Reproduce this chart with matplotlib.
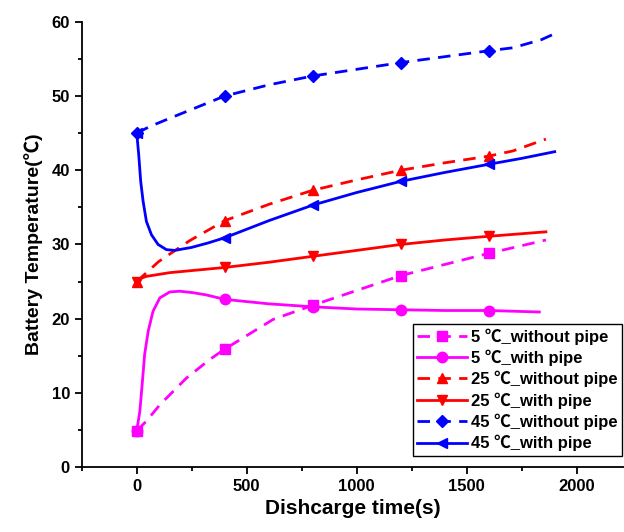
import numpy as np
import matplotlib.pyplot as plt
from matplotlib.ticker import MultipleLocator

plt.rcParams['font.family'] = ['Liberation Sans', 'Noto Sans CJK SC', 'DejaVu Sans']
plt.rcParams['font.weight'] = 'bold'

# discharge temperature traces, markers every 400 s
mark_t = [0, 400, 800, 1200, 1600]

t5_np = [0, 44, 105, 226, 332, 400, 620, 800, 1000, 1200, 1400, 1600, 1860]
y5_np = [4.9, 6.2, 8.4, 12.0, 14.5, 15.9, 19.9, 21.8, 23.8, 25.8, 27.3, 28.8, 30.6]

t5_p = [0, 14, 26, 36, 52, 74, 105, 150, 195, 256, 316, 400, 600, 800, 1000, 1200, 1400, 1600, 1830]
y5_p = [4.9, 7.5, 11.6, 15.2, 18.3, 21.0, 22.8, 23.6, 23.7, 23.5, 23.2, 22.6, 22.0, 21.6, 21.3, 21.2, 21.1, 21.1, 20.9]

t25_np = [0, 100, 240, 400, 600, 800, 1000, 1200, 1400, 1600, 1710, 1860]
y25_np = [25.0, 27.7, 30.5, 33.2, 35.4, 37.3, 38.7, 40.0, 41.0, 41.9, 42.6, 44.2]

t25_p = [0, 15, 44, 150, 400, 600, 800, 1000, 1200, 1400, 1600, 1860]
y25_p = [25.0, 25.4, 25.7, 26.2, 26.9, 27.6, 28.4, 29.2, 30.0, 30.6, 31.1, 31.7]

t45_np = [0, 60, 150, 250, 400, 600, 800, 1000, 1200, 1400, 1600, 1710, 1840, 1900]
y45_np = [45.0, 45.9, 47.0, 48.2, 50.0, 51.5, 52.7, 53.6, 54.5, 55.3, 56.1, 56.5, 57.6, 58.4]

t45_p = [0, 9, 18, 29, 44, 67, 97, 135, 173, 249, 324, 400, 600, 800, 1000, 1200, 1400, 1600, 1750, 1900]
y45_p = [45.0, 42.1, 38.5, 35.8, 33.1, 31.3, 30.0, 29.3, 29.2, 29.6, 30.2, 30.9, 33.2, 35.3, 37.0, 38.5, 39.7, 40.8, 41.6, 42.5]

series = [
    (t5_np, y5_np, '#FF00FF', 's', True, '5 ℃_without pipe'),
    (t5_p, y5_p, '#FF00FF', 'o', False, '5 ℃_with pipe'),
    (t25_np, y25_np, '#FF0000', '^', True, '25 ℃_without pipe'),
    (t25_p, y25_p, '#FF0000', 'v', False, '25 ℃_with pipe'),
    (t45_np, y45_np, '#0000FF', 'D', True, '45 ℃_without pipe'),
    (t45_p, y45_p, '#0000FF', '<', False, '45 ℃_with pipe'),
]

fig = plt.figure(figsize=(6.24, 5.32), dpi=100)
ax = fig.add_axes([0.131, 0.122, 0.869, 0.837])

for t, y, c, m, dashed, lab in series:
    idx = list(np.nonzero(np.isin(t, mark_t))[0])
    ms = 6.5 if m == 'D' else 7.5
    ln, = ax.plot(t, y, color=c, lw=2.0, marker=m, ms=ms, markevery=idx,
                  label=lab)
    if dashed:
        ln.set_dashes((4.5, 3))

ax.set_xlim(-250, 2215)
ax.set_ylim(0, 60)
ax.xaxis.set_major_locator(MultipleLocator(500))
ax.xaxis.set_minor_locator(MultipleLocator(250))
ax.yaxis.set_major_locator(MultipleLocator(10))
ax.yaxis.set_minor_locator(MultipleLocator(5))
ax.tick_params(which='major', direction='out', length=5, width=1.3, labelsize=12)
ax.tick_params(which='minor', direction='out', length=3, width=1.3)
for s in ('top', 'right'):
    ax.spines[s].set_visible(False)
for s in ('left', 'bottom'):
    ax.spines[s].set_linewidth(1.3)
for lab in ax.get_xticklabels() + ax.get_yticklabels():
    lab.set_fontweight('bold')

ax.set_xlabel('Dishcarge time(s)', fontsize=15, fontweight='bold', labelpad=4)
ax.set_ylabel('Battery Temperature(℃)', fontsize=14, fontweight='bold', labelpad=6)

leg = ax.legend(loc='upper left', bbox_to_anchor=(0.662, 0.391),
                bbox_transform=fig.transFigure, borderaxespad=0,
                fancybox=False, edgecolor='black', framealpha=1,
                fontsize=12, handlelength=3.0, handletextpad=0.25,
                labelspacing=0.3, borderpad=0.25)
leg.get_frame().set_linewidth(1.0)
for txt in leg.get_texts():
    txt.set_fontweight('bold')

fig.savefig('out.png', dpi=100)
